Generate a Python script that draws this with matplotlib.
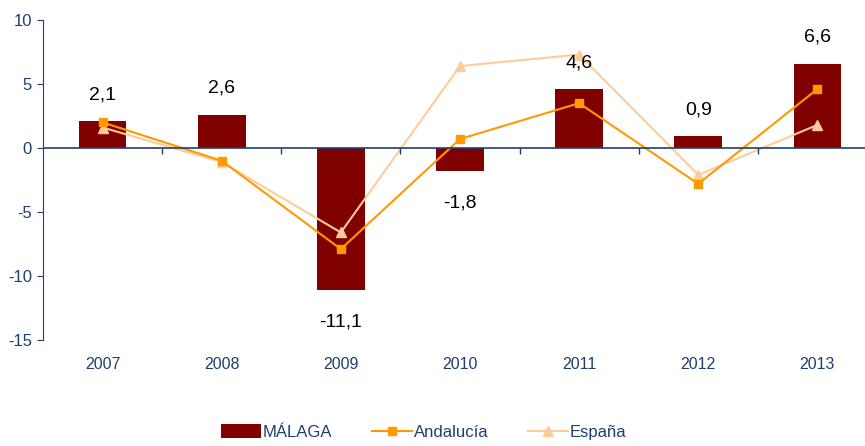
import matplotlib
matplotlib.use("Agg")
import matplotlib.pyplot as plt
import numpy as np

# datos
years = ["2007", "2008", "2009", "2010", "2011", "2012", "2013"]
malaga = [2.1, 2.6, -11.1, -1.8, 4.6, 0.9, 6.6]
andalucia = [2.0, -1.0, -7.9, 0.7, 3.5, -2.8, 4.6]
espana = [1.6, -1.1, -6.6, 6.4, 7.3, -2.1, 1.8]
labels = ["2,1", "2,6", "-11,1", "-1,8", "4,6", "0,9", "6,6"]

navy = "#1F3F6E"
plt.rcParams["font.family"] = ["Liberation Sans Narrow", "Liberation Sans", "DejaVu Sans"]
plt.rcParams["axes.unicode_minus"] = False

fig = plt.figure(figsize=(8.65, 4.46), dpi=100)
ax = fig.add_axes([0.0497, 0.2377, 0.9503, 0.7175])

x = np.arange(len(years))
b = ax.bar(x, malaga, width=0.40, color="#800000", zorder=2, label="MÁLAGA")
l1, = ax.plot(x, andalucia, color="#FF9900", lw=1.5, marker="s", ms=6, zorder=4, label="Andalucía")
l2, = ax.plot(x, espana, color="#FFCC99", lw=1.5, marker="^", ms=7, zorder=3, label="España")

# etiquetas de las barras
for xi, v, t in zip(x, malaga, labels):
    off = 19 if v >= 0 else -23
    ax.annotate(t, (xi, v), xytext=(0, off), textcoords="offset points",
                ha="center", va="center", fontsize=14, color="black")

# eje cero con marcas entre categorias
ax.axhline(0, color=navy, lw=1.2, zorder=5)
bounds = np.arange(len(years) - 1) + 0.5
ax.plot(bounds, np.zeros(len(bounds)), ls="none", marker=3, ms=4, color=navy, mew=1, zorder=5)

ax.set_xlim(-0.5, 6.4)
ax.set_ylim(-15, 10)
ax.set_yticks([-15, -10, -5, 0, 5, 10])
ax.set_xticks(x)
ax.set_xticklabels(years)
ax.tick_params(axis="x", length=0, pad=12, labelsize=11.5, labelcolor=navy)
ax.tick_params(axis="y", length=4, color=navy, labelsize=12, labelcolor=navy, pad=4)

for s in ["top", "right", "bottom"]:
    ax.spines[s].set_visible(False)
ax.spines["left"].set_color(navy)

leg = fig.legend(handles=[b, l1, l2], loc="lower center", bbox_to_anchor=(0.49, -0.02), ncol=3,
                 frameon=False, fontsize=12, handlelength=2.4, columnspacing=2.4,
                 handletextpad=0.1, handleheight=0.9)
for t in leg.get_texts():
    t.set_color(navy)

fig.savefig("out.png", dpi=100)
